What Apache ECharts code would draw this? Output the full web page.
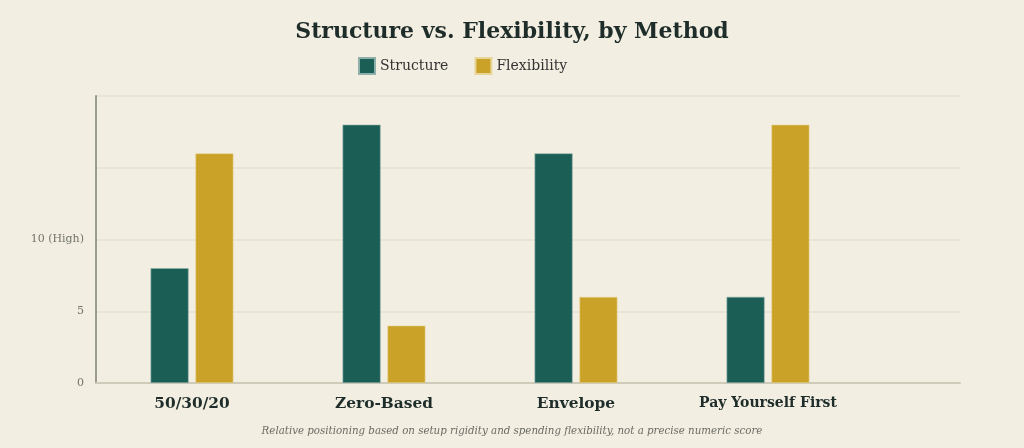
<!DOCTYPE html>
<html>
<head>
<meta charset="utf-8">
<script src="https://cdn.jsdelivr.net/npm/echarts@6/dist/echarts.min.js"></script>
<style>
  html, body { margin: 0; padding: 0; background: #f2eee2; }
  #chart { width: 1024px; height: 448px; }
</style>
</head>
<body>
<div id="chart"></div>
<script>
// 数据
var methods = ['50/30/20', 'Zero-Based', 'Envelope', 'Pay Yourself First'];
var structure = [8, 18, 16, 6];
var flexibility = [16, 4, 6, 18];
var methodPos = [0.5, 1.5, 2.5, 3.5];

function pairs(vals) {
    return vals.map(function (v, i) { return [methodPos[i], v]; });
}

var myChart = echarts.init(document.getElementById('chart'));
myChart.setOption({
    backgroundColor: '#f2eee2',
    animation: false,
    title: {
        text: 'Structure vs. Flexibility, by Method',
        left: 'center',
        top: 16,
        textStyle: {
            fontFamily: 'DejaVu Serif',
            fontSize: 22,
            fontWeight: 'bold',
            color: '#1f2d2a'
        }
    },
    legend: {
        left: 353,
        top: 52,
        itemWidth: 16,
        itemHeight: 16,
        itemGap: 26,
        icon: 'rect',
        textStyle: {
            fontFamily: 'DejaVu Serif',
            fontSize: 14,
            color: '#333333'
        },
        data: ['Structure', 'Flexibility']
    },
    grid: { left: 96, right: 64, top: 96, bottom: 65 },
    xAxis: {
        type: 'value',
        min: 0,
        max: 4.5,
        interval: 0.5,
        splitLine: { show: false },
        axisTick: { show: false },
        axisLine: { show: true, onZero: false, lineStyle: { color: '#cfcbbb', width: 2 } },
        axisLabel: {
            margin: 13,
            fontFamily: 'DejaVu Serif',
            fontWeight: 'bold',
            fontSize: 15.4,
            color: '#1f2d2a',
            formatter: function (v) {
                var i = methodPos.indexOf(v);
                if (i < 0) return '';
                // 长标签用小一号字
                return methods[i].length > 12 ? '{s|' + methods[i] + '}' : methods[i];
            },
            rich: {
                s: {
                    fontFamily: 'DejaVu Serif',
                    fontWeight: 'bold',
                    fontSize: 14,
                    color: '#1f2d2a'
                }
            }
        }
    },
    yAxis: {
        type: 'value',
        min: 0,
        max: 20,
        interval: 5,
        axisLine: { show: true, lineStyle: { color: '#9a9c90', width: 2 } },
        axisTick: { show: false },
        splitLine: { lineStyle: { color: '#e6e2d2', width: 1.5 } },
        axisLabel: {
            margin: 12,
            fontFamily: 'DejaVu Serif',
            fontSize: 11,
            color: '#72746a',
            formatter: function (v) {
                if (v === 10) return '10 (High)';
                if (v > 10) return '';
                return String(v);
            }
        }
    },
    series: [
        {
            name: 'Structure',
            type: 'bar',
            barWidth: 38,
            barGap: '18%',
            data: pairs(structure),
            itemStyle: { color: '#1b5e55', borderColor: '#8fb0aa', borderWidth: 0.6 }
        },
        {
            name: 'Flexibility',
            type: 'bar',
            barWidth: 38,
            barGap: '18%',
            data: pairs(flexibility),
            itemStyle: { color: '#c9a227', borderColor: '#e8d59a', borderWidth: 0.6 }
        }
    ],
    graphic: [{
        type: 'text',
        left: 'center',
        top: 426,
        style: {
            text: 'Relative positioning based on setup rigidity and spending flexibility, not a precise numeric score',
            fontFamily: 'DejaVu Serif Condensed',
            fontStyle: 'italic',
            fontSize: 11.4,
            fill: '#6b6b63'
        }
    }]
});
</script>
</body>
</html>
